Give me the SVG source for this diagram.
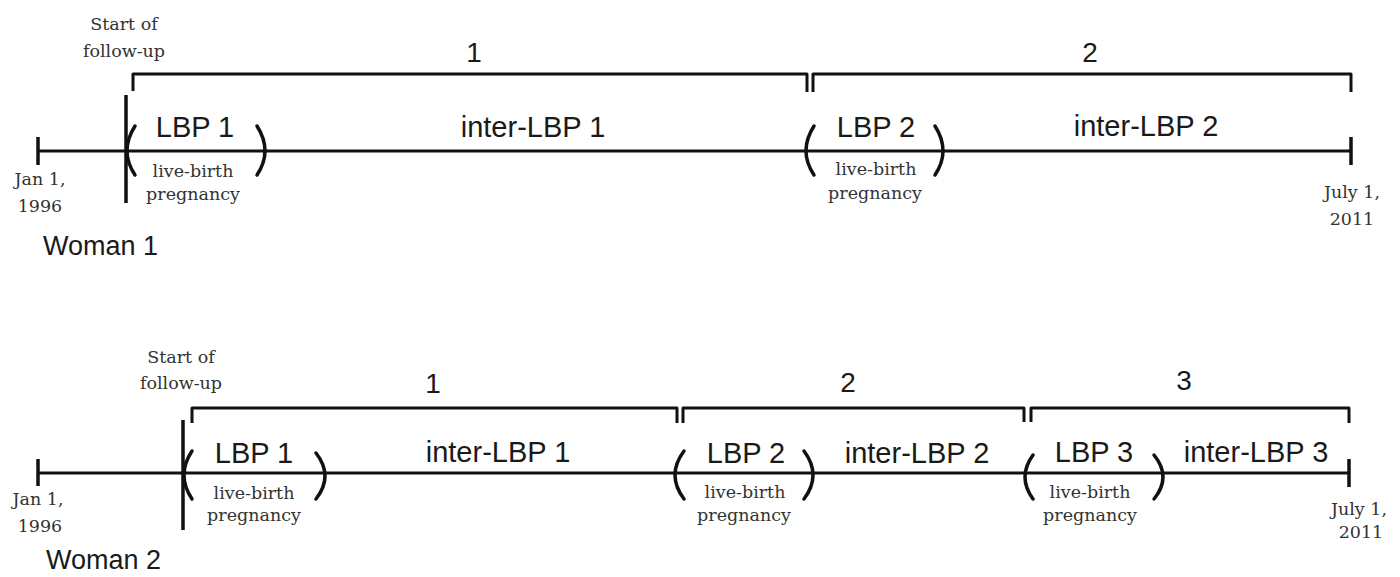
<svg xmlns="http://www.w3.org/2000/svg" width="1400" height="577" viewBox="0 0 1400 577">
  <style>
    .bg { fill: #ffffff; }
    .axis { stroke: #111; stroke-width: 3; fill: none; }
    .tick { stroke: #111; stroke-width: 3.5; fill: none; }
    .brace { stroke: #111; stroke-width: 3; fill: none; stroke-linejoin: round; }
    .paren { stroke: #111; stroke-width: 3.5; fill: none; stroke-linecap: round; }
    .big { font-family: "Liberation Sans", Arial, sans-serif; font-size: 29px; fill: #1a1a1a; text-anchor: middle; }
    .num { font-family: "Liberation Sans", Arial, sans-serif; font-size: 28px; fill: #1a1a1a; text-anchor: middle; }
    .small { font-family: "DejaVu Serif", "Liberation Serif", serif; font-size: 17.5px; fill: #333; text-anchor: middle; }
    .note { font-family: "DejaVu Serif", "Liberation Serif", serif; font-size: 17.5px; fill: #333; text-anchor: middle; }
    .who { font-family: "Liberation Sans", Arial, sans-serif; font-size: 27px; fill: #1a1a1a; }
  </style>
  <rect class="bg" x="0" y="0" width="1400" height="577"/>

  <!-- ===== Woman 1 ===== -->
  <g id="woman1">
    <g id="w1-connectors">
      <line class="axis" x1="37" y1="151" x2="1351" y2="151"/>
      <line class="tick" x1="38" y1="137" x2="38" y2="165"/>
      <line class="tick" x1="126" y1="95" x2="126" y2="203"/>
      <line class="tick" x1="1351" y1="137" x2="1351" y2="165"/>
      <path class="brace" d="M133,91 V74 H807 V92"/>
      <path class="brace" d="M813,92 V74 H1351 V92"/>
      <path class="paren" d="M135,126 Q119,151 135,175"/>
      <path class="paren" d="M257,126 Q273,151 257,175"/>
      <path class="paren" d="M814,126 Q798,151 814,175"/>
      <path class="paren" d="M935,126 Q951,151 935,175"/>
    </g>
    <g id="w1-start">
      <text class="note" x="124" y="30">Start of</text>
      <text class="note" x="124" y="57">follow-up</text>
    </g>
    <g id="w1-period1"><text class="num" x="474" y="62">1</text></g>
    <g id="w1-period2"><text class="num" x="1090" y="62">2</text></g>
    <g id="w1-lbp1">
      <text class="big" x="195" y="137">LBP 1</text>
      <text class="small" x="193" y="177">live-birth</text>
      <text class="small" x="193" y="200">pregnancy</text>
    </g>
    <g id="w1-inter1"><text class="big" x="533" y="137">inter-LBP 1</text></g>
    <g id="w1-lbp2">
      <text class="big" x="876" y="137">LBP 2</text>
      <text class="small" x="876" y="175">live-birth</text>
      <text class="small" x="875" y="199">pregnancy</text>
    </g>
    <g id="w1-inter2"><text class="big" x="1146" y="136">inter-LBP 2</text></g>
    <g id="w1-begin">
      <text class="note" x="40" y="185">Jan 1,</text>
      <text class="note" x="40" y="212">1996</text>
    </g>
    <g id="w1-end">
      <text class="note" x="1352" y="198">July 1,</text>
      <text class="note" x="1352" y="225">2011</text>
    </g>
    <g id="w1-name"><text class="who" x="43" y="255">Woman 1</text></g>
  </g>

  <!-- ===== Woman 2 ===== -->
  <g id="woman2">
    <g id="w2-connectors">
      <line class="axis" x1="37" y1="473" x2="1349" y2="473"/>
      <line class="tick" x1="38" y1="459" x2="38" y2="486"/>
      <line class="tick" x1="183" y1="420" x2="183" y2="530"/>
      <line class="tick" x1="1349" y1="459" x2="1349" y2="487"/>
      <path class="brace" d="M192,423 V408 H677 V423"/>
      <path class="brace" d="M683,423 V408 H1024 V422"/>
      <path class="brace" d="M1031,422 V408 H1349 V423"/>
      <path class="paren" d="M192,451 Q176,475 192,499"/>
      <path class="paren" d="M316,453 Q334,476 316,499"/>
      <path class="paren" d="M684,451 Q666,475 684,499"/>
      <path class="paren" d="M804,451 Q822,475 804,499"/>
      <path class="paren" d="M1033,455 Q1017,477 1033,499"/>
      <path class="paren" d="M1154,455 Q1172,477 1154,499"/>
    </g>
    <g id="w2-start">
      <text class="note" x="181" y="363">Start of</text>
      <text class="note" x="181" y="389">follow-up</text>
    </g>
    <g id="w2-period1"><text class="num" x="433" y="393">1</text></g>
    <g id="w2-period2"><text class="num" x="848" y="392">2</text></g>
    <g id="w2-period3"><text class="num" x="1184" y="390">3</text></g>
    <g id="w2-lbp1">
      <text class="big" x="254" y="463">LBP 1</text>
      <text class="small" x="254" y="499">live-birth</text>
      <text class="small" x="254" y="521">pregnancy</text>
    </g>
    <g id="w2-inter1"><text class="big" x="498" y="462">inter-LBP 1</text></g>
    <g id="w2-lbp2">
      <text class="big" x="746" y="463">LBP 2</text>
      <text class="small" x="745" y="498">live-birth</text>
      <text class="small" x="744" y="521">pregnancy</text>
    </g>
    <g id="w2-inter2"><text class="big" x="917" y="463">inter-LBP 2</text></g>
    <g id="w2-lbp3">
      <text class="big" x="1094" y="462">LBP 3</text>
      <text class="small" x="1090" y="498">live-birth</text>
      <text class="small" x="1090" y="521">pregnancy</text>
    </g>
    <g id="w2-inter3"><text class="big" x="1256" y="462">inter-LBP 3</text></g>
    <g id="w2-begin">
      <text class="note" x="38" y="505">Jan 1,</text>
      <text class="note" x="40" y="532">1996</text>
    </g>
    <g id="w2-end">
      <text class="note" x="1359" y="515">July 1,</text>
      <text class="note" x="1361" y="538">2011</text>
    </g>
    <g id="w2-name"><text class="who" x="46" y="569">Woman 2</text></g>
  </g>
</svg>
